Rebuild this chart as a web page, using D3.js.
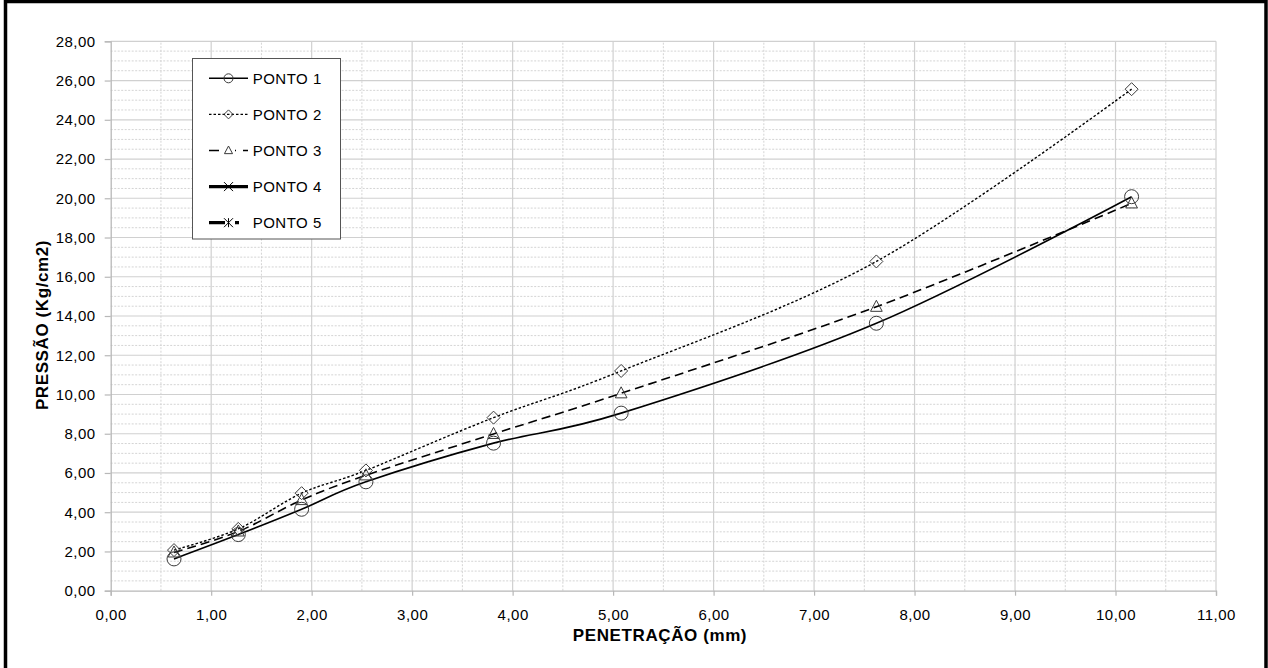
<!DOCTYPE html>
<html><head><meta charset="utf-8">
<script src="https://cdn.jsdelivr.net/npm/d3@7"></script>
<style>
html,body{margin:0;padding:0;background:#fff;}
svg text{font-family:"Liberation Sans",Arial,sans-serif;fill:#000;}
</style></head>
<body><svg id="c" width="1268" height="668"></svg>
<script>
const penetration = [0.63, 1.27, 1.90, 2.54, 3.81, 5.08, 7.62, 10.16];
const ponto1 = [1.62, 2.86, 4.15, 5.55, 7.52, 9.05, 13.63, 20.08];
const ponto2 = [2.07, 3.15, 4.97, 6.13, 8.82, 11.20, 16.78, 25.56];
const ponto3 = [1.95, 3.02, 4.62, 5.88, 7.99, 10.06, 14.47, 19.74];
const ponto4 = [];
const ponto5 = [];
const seriesNames = ["PONTO 1", "PONTO 2", "PONTO 3", "PONTO 4", "PONTO 5"];
const xTicks = [0,1,2,3,4,5,6,7,8,9,10,11];
const yTicks = [0,2,4,6,8,10,12,14,16,18,20,22,24,26,28];
const xTitle = "PENETRAÇÃO (mm)";
const yTitle = "PRESSÃO (Kg/cm2)";

const svg = d3.select("#c");
// outer frame
svg.append("rect").attr("x",5.5).attr("y",1.5).attr("width",1260.5).attr("height",680)
  .attr("fill","none").attr("stroke","#000").attr("stroke-width",3.5);

const x = d3.scaleLinear().domain([0,11]).range([110.7,1216]);
const y = d3.scaleLinear().domain([0,28]).range([590.7,41.3]);
const fmt = d => d.toFixed(2).replace(".",",");

const g = svg.append("g");
// minor grid
const minorX = d3.range(0.5,11,1);
const minorY = d3.range(0.5,28,0.5).filter(v => v % 2 !== 0);
g.selectAll(".mx").data(minorX).enter().append("line")
  .attr("x1",d=>x(d)).attr("x2",d=>x(d)).attr("y1",y(0)).attr("y2",y(28))
  .attr("stroke","#d4d4d4").attr("stroke-width",1).attr("stroke-dasharray","2,1.5");
g.selectAll(".my").data(minorY).enter().append("line")
  .attr("x1",x(0)).attr("x2",x(11)).attr("y1",d=>y(d)).attr("y2",d=>y(d))
  .attr("stroke","#d4d4d4").attr("stroke-width",1).attr("stroke-dasharray","2,1.5");
// major grid
g.selectAll(".Mx").data(xTicks.slice(1)).enter().append("line")
  .attr("x1",d=>x(d)).attr("x2",d=>x(d)).attr("y1",y(0)).attr("y2",y(28))
  .attr("stroke","#d0d0d0").attr("stroke-width",1.2);
g.selectAll(".My").data(yTicks.slice(1)).enter().append("line")
  .attr("x1",x(0)).attr("x2",x(11)).attr("y1",d=>y(d)).attr("y2",d=>y(d))
  .attr("stroke","#d0d0d0").attr("stroke-width",1.2);

// axes
const xAxis = svg.append("g").attr("transform",`translate(0,${y(0)})`)
  .call(d3.axisBottom(x).tickValues(xTicks).tickFormat(fmt).tickSize(5).tickPadding(14));
const yAxis = svg.append("g").attr("transform",`translate(${x(0)},0)`)
  .call(d3.axisLeft(y).tickValues(yTicks).tickFormat(fmt).tickSize(6).tickPadding(9));
[xAxis,yAxis].forEach(a=>{
  a.select(".domain").attr("stroke","#b8b8b8").attr("stroke-width",1.3);
  a.selectAll(".tick line").attr("stroke","#b8b8b8").attr("stroke-width",1.2);
  a.selectAll("text").attr("font-size",15).attr("letter-spacing",0.5)
    .attr("font-family","Liberation Sans, Arial, sans-serif").attr("fill","#000");
});

// titles
svg.append("text").attr("x",660).attr("y",641).attr("text-anchor","middle")
  .attr("font-size",17).attr("font-weight","bold").attr("letter-spacing",0.6).text(xTitle);
svg.append("text").attr("transform","translate(48,325) rotate(-90)").attr("text-anchor","middle")
  .attr("font-size",17).attr("font-weight","bold").attr("letter-spacing",0.6).text(yTitle);

// series
const series = [
  {name:seriesNames[0], vals:ponto1, dash:null, w:1.6, marker:"circle"},
  {name:seriesNames[1], vals:ponto2, dash:"2.5,2", w:1.4, marker:"diamond"},
  {name:seriesNames[2], vals:ponto3, dash:"9,5", w:1.6, marker:"triangle"},
  {name:seriesNames[3], vals:ponto4, dash:null, w:3.2, marker:"x"},
  {name:seriesNames[4], vals:ponto5, dash:"14,9,4,9", w:3.2, marker:"star"}
];
const line = d3.line().x(d=>x(d[0])).y(d=>y(d[1])).curve(d3.curveCatmullRom.alpha(0));
const mcol = "#3a3a3a";
function drawMarker(sel, type, cx, cy, s){
  if(type==="circle"){
    sel.append("circle").attr("cx",cx).attr("cy",cy).attr("r",s)
      .attr("fill","none").attr("stroke",mcol).attr("stroke-width",1);
  } else if(type==="diamond"){
    sel.append("path").attr("d",`M${cx},${cy-s}L${cx+s},${cy}L${cx},${cy+s}L${cx-s},${cy}Z`)
      .attr("fill","none").attr("stroke",mcol).attr("stroke-width",1);
  } else if(type==="triangle"){
    sel.append("path").attr("d",`M${cx},${cy-s}L${cx+s*0.9},${cy+s*0.7}L${cx-s*0.9},${cy+s*0.7}Z`)
      .attr("fill","none").attr("stroke",mcol).attr("stroke-width",1);
  } else if(type==="x"){
    sel.append("path").attr("d",`M${cx-s},${cy-s}L${cx+s},${cy+s}M${cx-s},${cy+s}L${cx+s},${cy-s}`)
      .attr("stroke","#000").attr("stroke-width",1);
  } else if(type==="star"){
    sel.append("path").attr("d",`M${cx-s},${cy-s}L${cx+s},${cy+s}M${cx-s},${cy+s}L${cx+s},${cy-s}M${cx},${cy-s}L${cx},${cy+s}`)
      .attr("stroke","#000").attr("stroke-width",1);
  }
}
const sg = svg.append("g");
series.forEach(s=>{
  const pts = s.vals.map((v,i)=>[penetration[i],v]);
  if(pts.length===0) return;
  sg.append("path").attr("d",line(pts)).attr("fill","none").attr("stroke","#000")
    .attr("stroke-width",s.w).attr("stroke-dasharray",s.dash);
});
series.forEach(s=>{
  const pts = s.vals.map((v,i)=>[penetration[i],v]);
  const size = s.marker==="circle"?7:6.5;
  pts.forEach(p=>drawMarker(sg, s.marker, x(p[0]), y(p[1]), size));
});

// legend
const lg = svg.append("g");
lg.append("rect").attr("x",192.5).attr("y",58.5).attr("width",148).attr("height",180.5)
  .attr("fill","#fff").attr("stroke","#555").attr("stroke-width",1);
const ly0 = 78.3, ldy = 36.1;
series.forEach((s,i)=>{
  const yy = ly0 + i*ldy;
  lg.append("line").attr("x1",209).attr("x2",248).attr("y1",yy).attr("y2",yy)
    .attr("stroke","#000").attr("stroke-width",s.w)
    .attr("stroke-dasharray", i===2 ? "10,7" : (i===4 ? "16,10,4,20" : s.dash));
  if(i===2){
    lg.append("rect").attr("x",222).attr("y",yy-6).attr("width",13).attr("height",8).attr("fill","#fff");
  }
  drawMarker(lg, s.marker, 228.5, yy, 4.5);
  lg.append("text").attr("x",252.7).attr("y",yy+5.3).attr("font-size",15).attr("letter-spacing",0.5).text(s.name);
});
</script></body></html>
